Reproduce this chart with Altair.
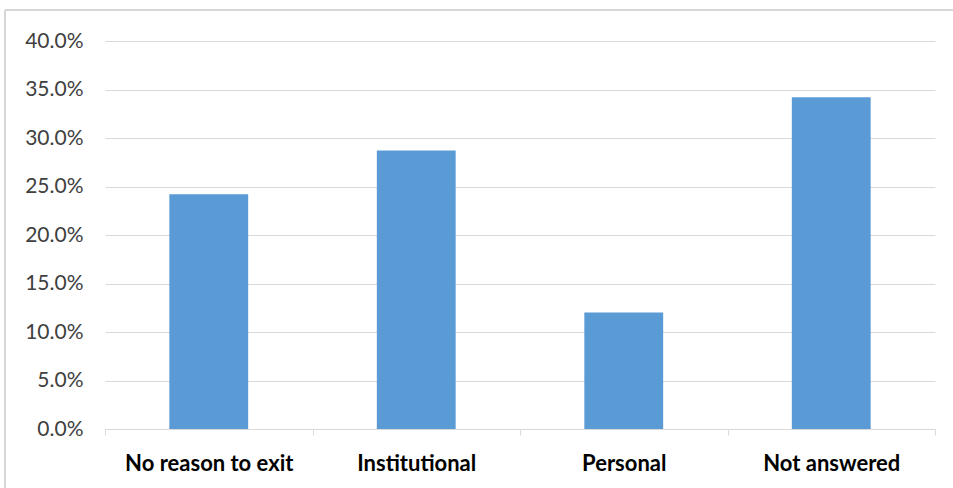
import altair as alt
import pandas as pd

# Share of respondents by exit reason
categories = ["No reason to exit", "Institutional", "Personal", "Not answered"]
shares = [0.242, 0.287, 0.120, 0.342]

df = pd.DataFrame({"reason": categories, "share": shares})

W, H = 830, 388
FONT = "Lato"
GRID = "#d9d9d9"

x_enc = alt.X(
    "reason:N",
    sort=categories,
    title=None,
    scale=alt.Scale(paddingInner=0, paddingOuter=0),
    axis=alt.Axis(
        labelAngle=0,
        labelFont=FONT,
        labelFontSize=22,
        labelFontWeight="bold",
        labelColor="#000000",
        labelPadding=18,
        tickBand="extent",
        tickColor=GRID,
        tickSize=6,
        domainColor=GRID,
        grid=False,
    ),
)

y_enc = alt.Y(
    "share:Q",
    title=None,
    scale=alt.Scale(domain=[0, 0.40], nice=False),
    axis=alt.Axis(
        format=".1%",
        values=[i * 0.05 for i in range(9)],
        labelFont=FONT,
        labelFontSize=21,
        labelColor="#404040",
        labelPadding=22,
        domain=False,
        ticks=False,
        gridColor=GRID,
    ),
)

bars = alt.Chart(df).mark_bar(
    color="#5b9bd5", width=alt.RelativeBandSize(0.38)
).encode(x=x_enc, y=y_enc)

# Thin frame lines along the top and left of the figure
frame_top = alt.Chart(df).mark_rule(color="#d6d6d6", strokeWidth=2).encode(
    x=alt.value(-100), x2=alt.value(W + 18), y=alt.value(-31)
)
frame_left = alt.Chart(df).mark_rule(color="#d6d6d6", strokeWidth=2).encode(
    x=alt.value(-100), y=alt.value(-31), y2=alt.value(H + 59)
)

chart = (
    alt.layer(bars, frame_top, frame_left)
    .properties(
        width=W,
        height=H,
        autosize=alt.AutoSizeParams(type="none"),
        padding={"left": 105, "top": 41, "right": 18, "bottom": 59},
        background="white",
    )
    .configure_view(stroke=None)
)

chart.save("out.html", embed_options={"renderer": "svg", "actions": False})
